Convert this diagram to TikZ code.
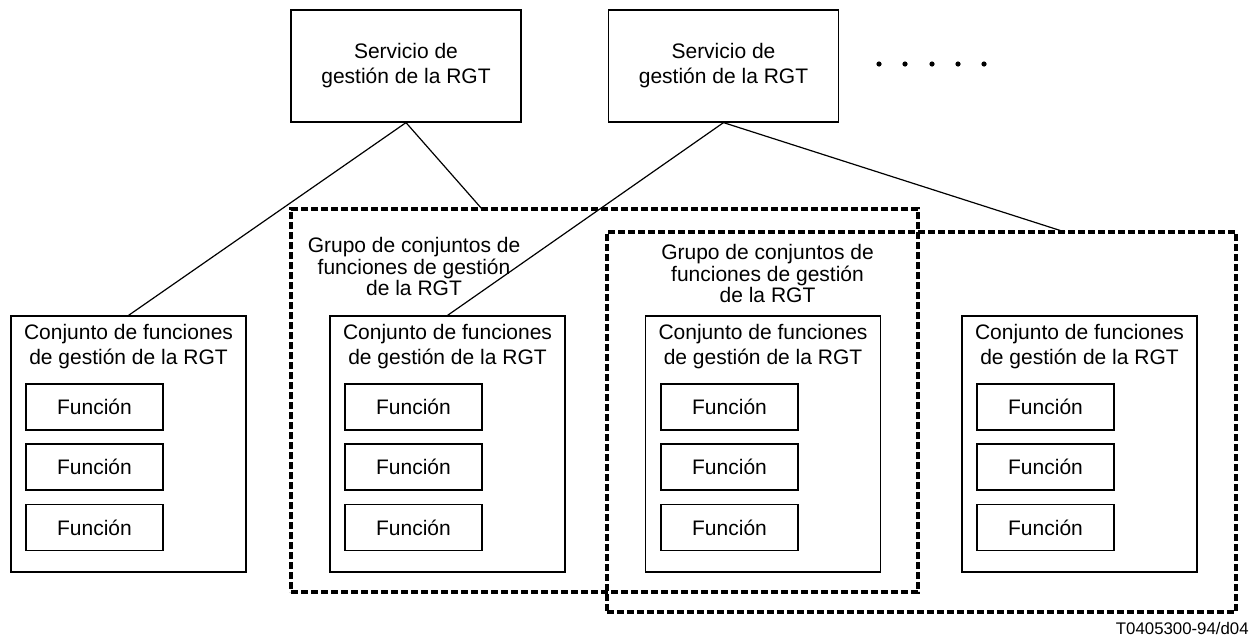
\documentclass[tikz,border=0pt]{standalone}
\usepackage{fontspec}
\setmainfont{Liberation Sans}
\begin{document}
\begin{tikzpicture}[x=0.5pt,y=-0.5pt,
    font=\fontsize{10.5}{12.5}\selectfont,
    box/.style={draw, rectangle, line width=0.6pt, inner sep=0pt},
    servbox/.style={box, minimum width=115pt, minimum height=56pt, align=center},
    setbox/.style={box, minimum width=117.5pt, minimum height=128pt},
    funcbox/.style={box, minimum width=68.5pt, minimum height=23pt},
    settext/.style={anchor=north, inner sep=0pt, align=center},
    grouptext/.style={anchor=north, inner sep=0pt, align=center, font=\fontsize{10.5}{10.75}\selectfont},
    groupbox/.style={draw, rectangle, line width=1.8pt, dash pattern=on 3.6pt off 1.4pt, inner sep=0pt}]
            \useasboundingbox (0,0) rectangle (1251,639);

            \node[servbox] (S_1) at (406,66) {Servicio de\\gestión de la RGT};
            \node[servbox] (S_2) at (723.5,66) {Servicio de\\gestión de la RGT};

            \fill (879,64) circle[radius=1.3pt];
            \fill (905,64) circle[radius=1.3pt];
            \fill (932,64) circle[radius=1.3pt];
            \fill (958,64) circle[radius=1.3pt];
            \fill (984,64) circle[radius=1.3pt];

            \node[groupbox, minimum width=313.5pt, minimum height=191.5pt] (G_1) at (604.5,400.5) {};
            \node[grouptext] (GT_1) at (414,237) {Grupo de conjuntos de\\funciones de gestión\\de la RGT};
            \node[groupbox, minimum width=314.5pt, minimum height=190pt] (G_2) at (921.5,422) {};
            \node[grouptext] (GT_2) at (767.5,244) {Grupo de conjuntos de\\funciones de gestión\\de la RGT};

            \node[setbox] (C_1) at (128.5,444) {};
            \node[settext] (CT_1) at (128.5,323.5) {Conjunto de funciones\\de gestión de la RGT};
            \node[funcbox] (F_11) at (94.5,407) {Función};
            \node[funcbox] (F_12) at (94.5,467) {Función};
            \node[funcbox] (F_13) at (94.5,527.5) {Función};

            \node[setbox] (C_2) at (447.5,444) {};
            \node[settext] (CT_2) at (447.5,323.5) {Conjunto de funciones\\de gestión de la RGT};
            \node[funcbox] (F_21) at (413.5,407) {Función};
            \node[funcbox] (F_22) at (413.5,467) {Función};
            \node[funcbox] (F_23) at (413.5,527.5) {Función};

            \node[setbox] (C_3) at (763,444) {};
            \node[settext] (CT_3) at (763,323.5) {Conjunto de funciones\\de gestión de la RGT};
            \node[funcbox] (F_31) at (729.5,407) {Función};
            \node[funcbox] (F_32) at (729.5,467) {Función};
            \node[funcbox] (F_33) at (729.5,527.5) {Función};

            \node[setbox] (C_4) at (1079.5,444) {};
            \node[settext] (CT_4) at (1079.5,323.5) {Conjunto de funciones\\de gestión de la RGT};
            \node[funcbox] (F_41) at (1045.5,407) {Función};
            \node[funcbox] (F_42) at (1045.5,467) {Función};
            \node[funcbox] (F_43) at (1045.5,527.5) {Función};

            \coordinate (G_1top) at (482,209);
            \coordinate (G_2top) at (1065,232);

            \draw[line width=0.6pt] (S_1.south) -- (C_1.north);
            \draw[line width=0.6pt] (S_1.south) -- (G_1top);
            \draw[line width=0.6pt] (S_2.south) -- (C_2.north);
            \draw[line width=0.6pt] (S_2.south) -- (G_2top);

            \node[anchor=base east, inner sep=0pt, font=\fontsize{8.4}{10}\selectfont] (ref) at (1249,634) {T0405300-94/d04};
        \end{tikzpicture}
\end{document}
